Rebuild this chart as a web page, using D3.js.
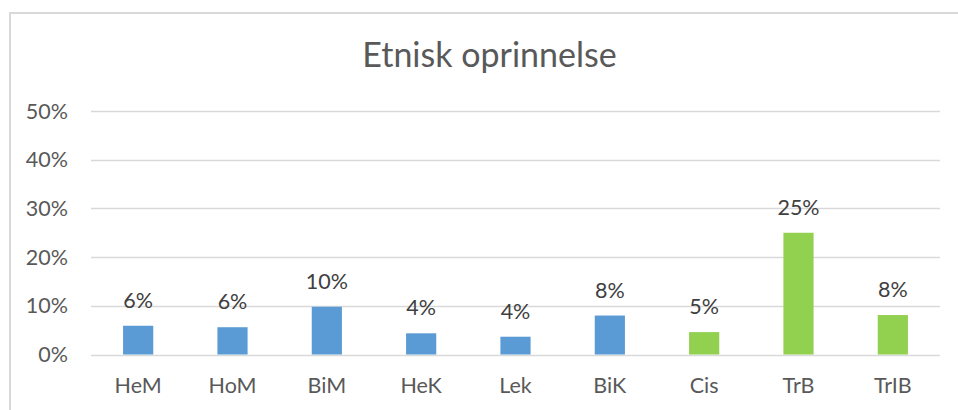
<!DOCTYPE html>
<html><head><meta charset="utf-8">
<script src="https://cdn.jsdelivr.net/npm/d3@7"></script>
<style>body{margin:0;background:#fff}svg{display:block}</style>
</head><body>
<script>
const categories = ["HeM","HoM","BiM","HeK","Lek","BiK","Cis","TrB","TrIB"];
const values = [0.059,0.056,0.098,0.0435,0.0365,0.080,0.046,0.250,0.081];
const labels = ["6%","6%","10%","4%","4%","8%","5%","25%","8%"];
const groups = ["blue","blue","blue","blue","blue","blue","green","green","green"];
const yTicks = [0,0.1,0.2,0.3,0.4,0.5];
const title = "Etnisk oprinnelse";

const W=958,H=410;
const font="Lato, 'Open Sans', sans-serif";
const svg=d3.select("body").append("svg").attr("width",W).attr("height",H);
svg.append("rect").attr("x",10).attr("y",13).attr("width",W+20).attr("height",H+20)
  .attr("fill","#fff").attr("stroke","#d9d9d9").attr("stroke-width",2);
const x=d3.scaleBand().domain(categories).range([91,940]).paddingInner(0.68).paddingOuter(0.34);
const y=d3.scaleLinear().domain([0,0.5]).range([354.5,111]);
const color=d3.scaleOrdinal().domain(["blue","green"]).range(["#5b9bd5","#92d050"]);

svg.append("g").selectAll("line").data(yTicks).join("line")
  .attr("x1",91).attr("x2",940).attr("y1",d=>Math.round(y(d))+0.5).attr("y2",d=>Math.round(y(d))+0.5)
  .attr("stroke","#d9d9d9").attr("stroke-width",1.3);
svg.append("g").selectAll("text").data(yTicks).join("text")
  .attr("x",68).attr("y",d=>y(d)+7.5).attr("text-anchor","end")
  .attr("font-family",font).attr("font-size",21.5).attr("fill","#595959")
  .text(d3.format(".0%"));

svg.append("g").selectAll("rect").data(values).join("rect")
  .attr("x",(d,i)=>x(categories[i])).attr("width",x.bandwidth())
  .attr("y",d=>y(d)).attr("height",d=>y(0)-y(d))
  .attr("fill",(d,i)=>color(groups[i]));

svg.append("g").selectAll("text").data(values).join("text")
  .attr("x",(d,i)=>x(categories[i])+x.bandwidth()/2).attr("y",d=>y(d)-18)
  .attr("text-anchor","middle").attr("font-family",font).attr("font-size",21.5).attr("fill","#404040")
  .text((d,i)=>labels[i]);

svg.append("g").selectAll("text").data(categories).join("text")
  .attr("x",d=>x(d)+x.bandwidth()/2).attr("y",393)
  .attr("text-anchor","middle").attr("font-family",font).attr("font-size",21.5).attr("fill","#595959")
  .text(d=>d);

svg.append("text").attr("x",489.5).attr("y",67).attr("text-anchor","middle")
  .attr("font-family",font).attr("font-size",34).attr("fill","#595959").text(title);
</script>
</body></html>
